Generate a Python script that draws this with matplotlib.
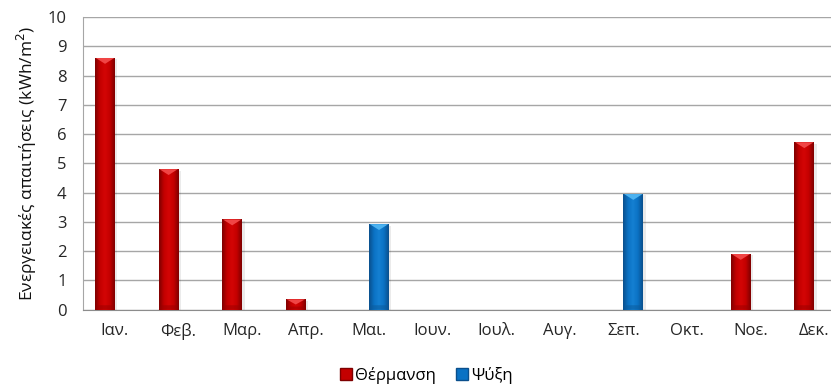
import matplotlib
matplotlib.use("Agg")
import matplotlib.pyplot as plt
import numpy as np
from matplotlib.colors import LinearSegmentedColormap
from matplotlib.patches import Polygon, Rectangle

months = ["Ιαν.", "Φεβ.", "Μαρ.", "Απρ.", "Μαι.", "Ιουν.", "Ιουλ.", "Αυγ.",
          "Σεπ.", "Οκτ.", "Νοε.", "Δεκ."]
heating = [8.6, 4.8, 3.08, 0.35, 0, 0, 0, 0, 0, 0, 1.9, 5.72]
cooling = [0, 0, 0, 0, 2.92, 0, 0, 0, 3.95, 0, 0, 0]
series_names = ["Θέρμανση", "Ψύξη"]

plt.rcParams["font.family"] = ["Open Sans", "DejaVu Sans"]
FS = 12

# colour ramps across each bar: dark edge -> bright middle -> dark edge
styles = {
    "heat": dict(ramp=["#7e0000", "#c40000", "#d40505", "#c40000", "#7e0000"],
                 top="#f04545", base="#9a0000"),
    "cool": dict(ramp=["#0a4f8c", "#0a72c4", "#1580d2", "#0a72c4", "#0a4f8c"],
                 top="#4cb2f0", base="#0b5a9a"),
}

fig = plt.figure(figsize=(8.31, 3.87), dpi=100)
ax = fig.add_axes([0.1, 0.2, 0.918, 0.756])

x = np.arange(len(months))
w = 0.31


def fancy_bars(xs, vals, st):
    cmap = LinearSegmentedColormap.from_list("r", st["ramp"])
    grad = np.linspace(0, 1, 64).reshape(1, -1)
    bars = ax.bar(xs, vals, w, color=st["ramp"][1], zorder=3, linewidth=0)
    for b, v in zip(bars, vals):
        if v <= 0:
            continue
        x0, x1 = b.get_x(), b.get_x() + b.get_width()
        # faint drop shadow on the right
        ax.add_patch(Rectangle((x1, 0), 0.04, v - 0.05, color="#000000",
                               alpha=0.08, lw=0, zorder=2))
        im = ax.imshow(grad, cmap=cmap, extent=(x0, x1, 0, v), aspect="auto",
                       zorder=3.5, interpolation="bicubic")
        im.set_clip_path(b)
        # bevelled top: light triangle pointing down
        th = min(0.2, v * 0.5)
        ax.add_patch(Polygon([(x0 + 0.01, v), (x1 - 0.01, v), ((x0 + x1) / 2, v - th)],
                             closed=True, color=st["top"], lw=0, zorder=4))
        bh = min(0.15, v * 0.3)
        ax.add_patch(Polygon([(x0, 0), (x1, 0), (x1 - 0.04, bh), (x0 + 0.04, bh)],
                             closed=True, color=st["base"], alpha=0.5, lw=0, zorder=4))
    return bars


fancy_bars(x - w / 2, heating, styles["heat"])
fancy_bars(x + w / 2, cooling, styles["cool"])

ax.set_xlim(-0.5, len(months) - 0.5)
ax.set_ylim(0, 10)
ax.set_yticks(range(0, 11))
ax.set_xticks(x)
ax.set_xticklabels(months)
ax.tick_params(axis="both", length=0, colors="#262626", labelsize=FS)
ax.tick_params(axis="y", pad=12)
ax.tick_params(axis="x", pad=10)
ax.grid(axis="y", color="#a6a6a6", lw=1, zorder=0)
ax.set_axisbelow(True)
for s in ["top", "right"]:
    ax.spines[s].set_visible(False)
ax.spines["left"].set_color("#a6a6a6")
ax.spines["bottom"].set_color("#8c8c8c")
ax.set_ylabel("Ενεργειακές απαιτήσεις (kWh/m$^2$)", fontsize=12.5, color="#111111",
              labelpad=6)

handles = [Rectangle((0, 0), 1, 1, color="#c40000", ec="#7e0000"),
           Rectangle((0, 0), 1, 1, color="#0a72c4", ec="#0a4f8c")]
fig.legend(handles, series_names, loc="center", bbox_to_anchor=(0.513, 0.03),
           ncol=2, frameon=False, handlelength=0.7, handleheight=0.7,
           handletextpad=0.2, columnspacing=1.2, fontsize=FS)

fig.savefig("out.png", dpi=100)
